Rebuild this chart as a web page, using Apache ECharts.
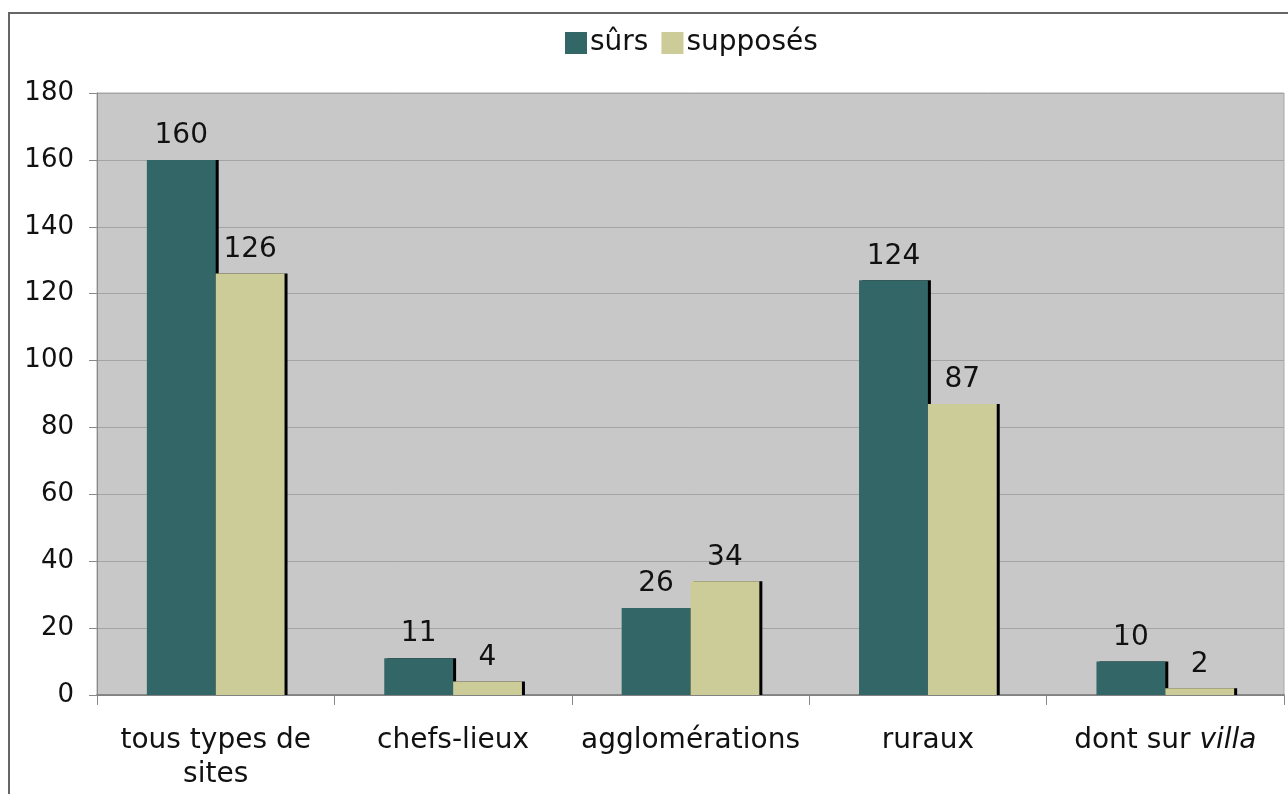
<!DOCTYPE html>
<html>
<head>
<meta charset="utf-8">
<script src="https://cdn.jsdelivr.net/npm/echarts@6/dist/echarts.min.js"></script>
<style>
  html, body { margin: 0; padding: 0; background: #fff; }
  #chart { width: 1288px; height: 794px; }
</style>
</head>
<body>
<div id="chart"></div>
<script>
var categories = ['tous types de\nsites', 'chefs-lieux', 'agglomérations', 'ruraux', 'dont sur {i|villa}'];
var surs = [160, 11, 26, 124, 10];
var supposes = [126, 4, 34, 87, 2];
var yTicks = [0, 20, 40, 60, 80, 100, 120, 140, 160, 180];

var myChart = echarts.init(document.getElementById('chart'));

var font = 'DejaVu Sans, Verdana, sans-serif';
var barShadow = {
    shadowColor: '#000',
    shadowBlur: 0,
    shadowOffsetX: 3,
    shadowOffsetY: 0
};

var option = {
    animation: false,
    backgroundColor: '#fff',
    graphic: [{
        type: 'rect',
        shape: { x: 9, y: 13, width: 1300, height: 800 },
        style: { fill: 'none', stroke: '#666', lineWidth: 2 },
        silent: true
    }],
    legend: {
        data: ['sûrs', 'supposés'],
        top: 24,
        left: 560,
        itemWidth: 22,
        itemHeight: 22,
        itemGap: 13,
        icon: 'rect',
        textStyle: { fontFamily: font, fontSize: 28, color: '#111', padding: [0, 0, 0, -2] }
    },
    grid: {
        left: 97,
        right: 4,
        top: 93,
        bottom: 99,
        show: true,
        backgroundColor: '#c8c8c8',
        borderColor: '#a8a8a8',
        borderWidth: 1
    },
    xAxis: {
        type: 'category',
        data: categories,
        axisLine: { lineStyle: { color: '#777', width: 1.5 } },
        axisTick: { show: true, length: 10, lineStyle: { color: '#888' } },
        axisLabel: {
            fontFamily: font,
            fontSize: 28,
            color: '#111',
            margin: 29,
            lineHeight: 34,
            interval: 0,
            rich: {
                i: { fontFamily: font, fontSize: 28, fontStyle: 'italic', color: '#111' }
            }
        }
    },
    yAxis: {
        type: 'value',
        min: 0,
        max: 180,
        interval: 20,
        axisLine: { show: true, lineStyle: { color: '#888' } },
        axisTick: { show: true, length: 8, lineStyle: { color: '#888' } },
        splitLine: { lineStyle: { color: '#a4a4a4', width: 1 } },
        axisLabel: {
            fontFamily: font,
            fontSize: 26,
            color: '#111',
            margin: 23,
            formatter: function (v) { return yTicks.indexOf(v) >= 0 ? String(v) : ''; }
        }
    },
    series: [{
        name: 'sûrs',
        type: 'bar',
        data: surs,
        barGap: '0%',
        barCategoryGap: '42%',
        itemStyle: Object.assign({ color: '#336666' }, barShadow),
        label: {
            show: true,
            position: 'top',
            distance: 10,
            fontFamily: font,
            fontSize: 28,
            color: '#111'
        }
    }, {
        name: 'supposés',
        type: 'bar',
        data: supposes,
        barGap: '0%',
        barCategoryGap: '42%',
        itemStyle: Object.assign({ color: '#cccc99' }, barShadow),
        label: {
            show: true,
            position: 'top',
            distance: 10,
            fontFamily: font,
            fontSize: 28,
            color: '#111'
        }
    }]
};

myChart.setOption(option);
</script>
</body>
</html>
